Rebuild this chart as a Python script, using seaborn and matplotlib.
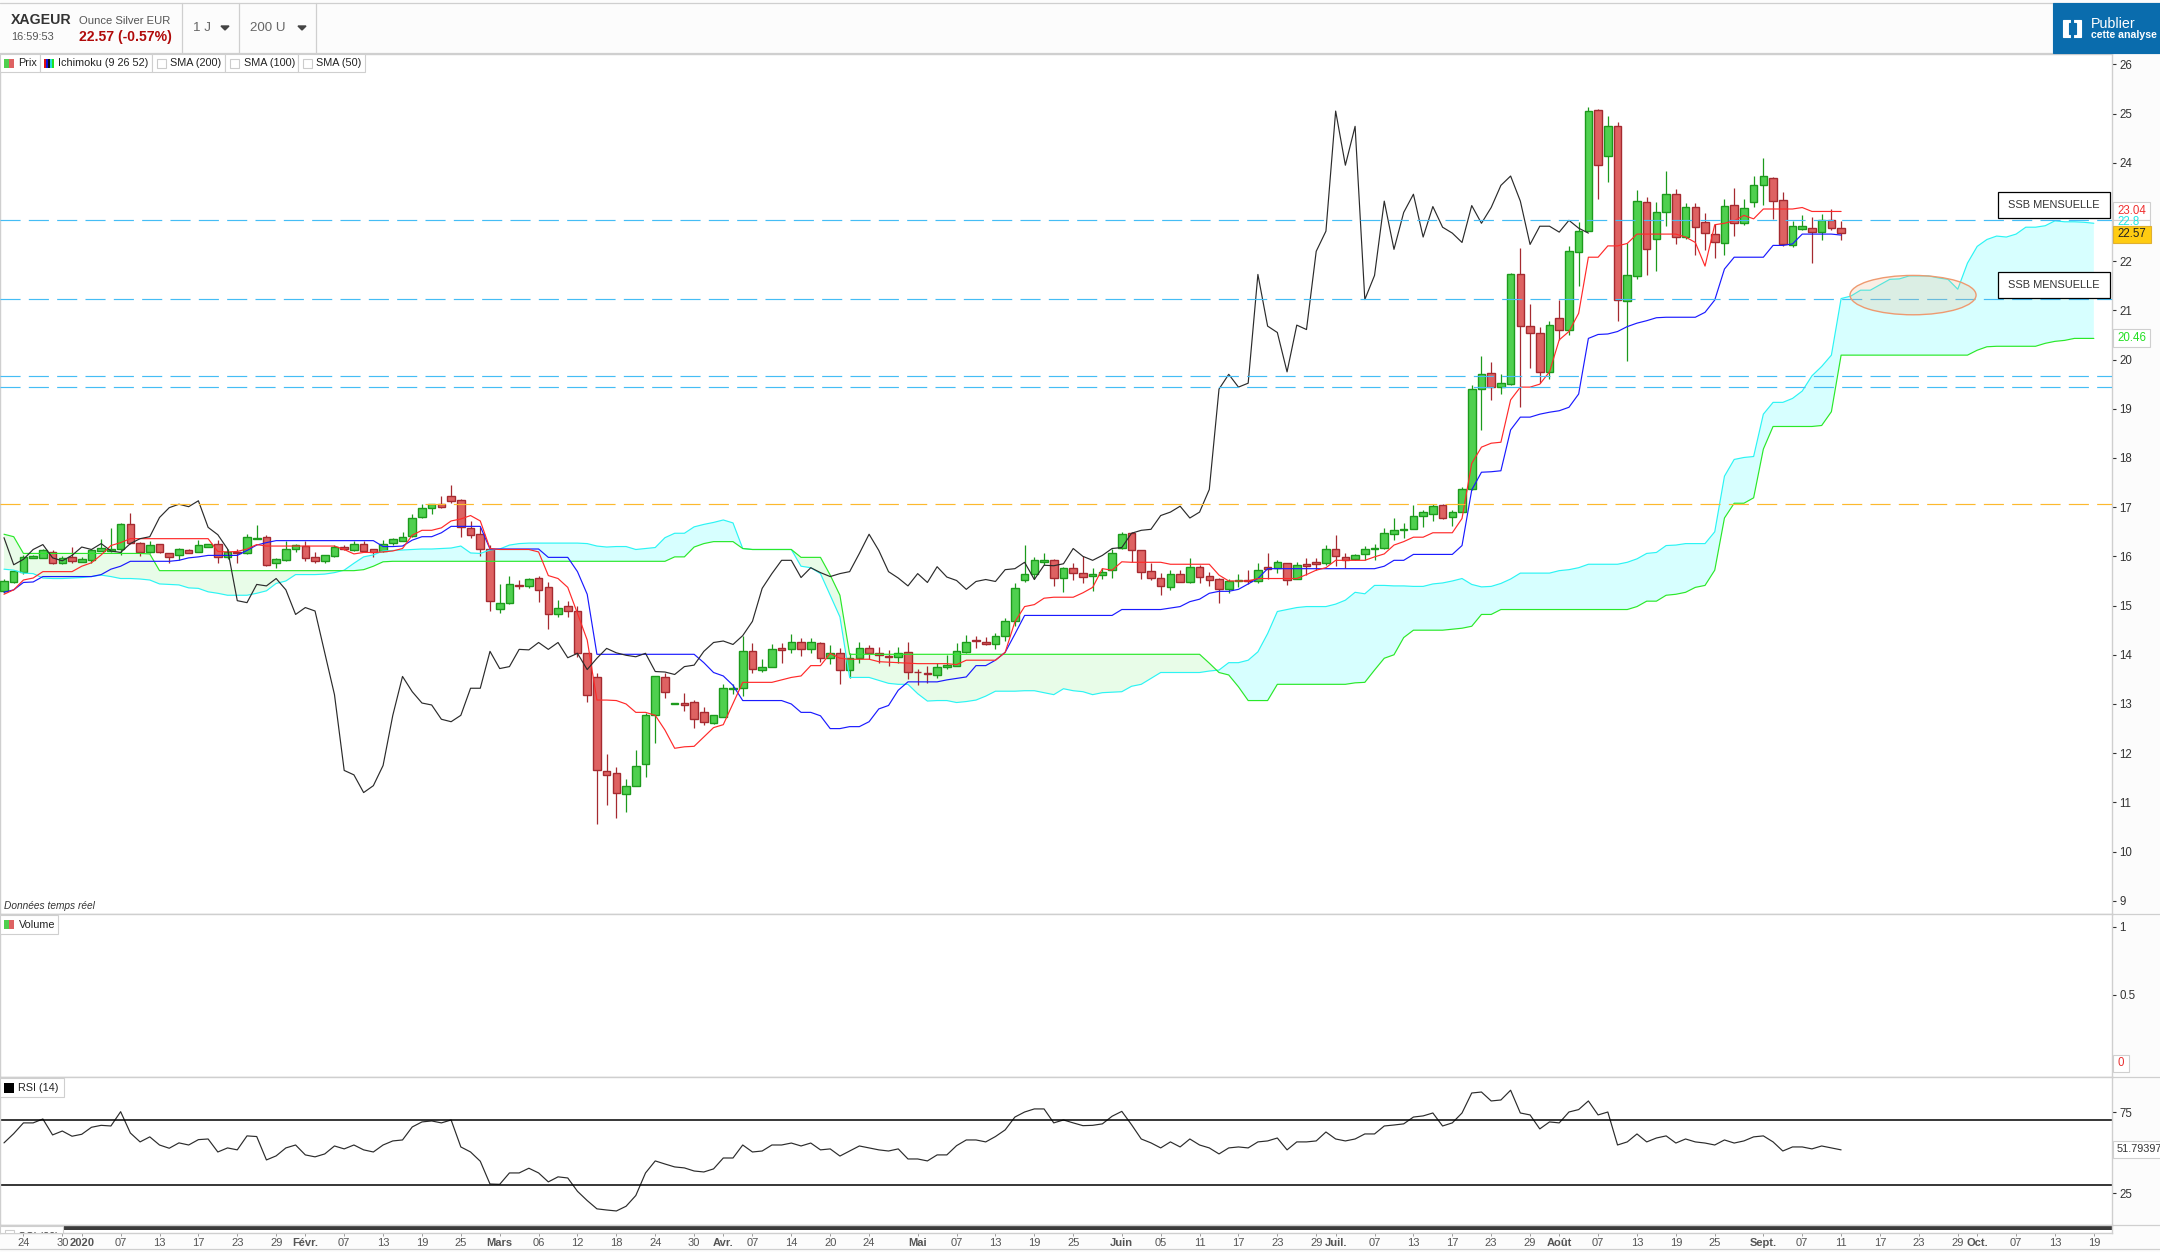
import numpy as np
import seaborn as sns
import matplotlib
matplotlib.use("Agg")
import matplotlib.pyplot as plt
from matplotlib.patches import Rectangle, Ellipse, Polygon

opens = [15.30,15.47,15.69,15.97,15.97,16.09,15.86,15.98,15.89,15.93,
16.11,16.11,16.15,16.65,16.28,16.09,16.26,16.06,16.02,16.12,
16.09,16.20,16.26,15.99,16.09,16.06,16.36,16.40,15.86,15.92,
16.15,16.22,15.98,15.91,16.00,16.20,16.13,16.26,16.14,16.11,
16.28,16.32,16.42,16.80,16.99,17.06,17.22,17.14,16.57,16.45,
16.15,14.93,15.06,15.41,15.40,15.57,15.37,14.83,14.99,14.90,
14.03,13.54,11.63,11.59,11.17,11.34,11.78,12.78,13.54,13.00,
13.03,13.05,12.83,12.62,12.74,13.31,13.32,14.07,13.69,13.76,
14.13,14.11,14.25,14.11,14.23,13.93,14.03,13.70,13.93,14.13,
14.03,13.97,13.96,14.05,13.66,13.64,13.58,13.76,13.78,14.05,
14.30,14.27,14.22,14.39,14.68,15.53,15.65,15.89,15.92,15.57,
15.77,15.67,15.61,15.63,15.73,16.17,16.47,16.12,15.71,15.57,
15.37,15.65,15.47,15.79,15.61,15.55,15.33,15.49,15.53,15.49,
15.79,15.77,15.86,15.55,15.84,15.88,15.86,16.16,15.98,15.95,
16.05,16.15,16.18,16.46,16.54,16.56,16.83,16.87,17.04,16.80,
16.91,17.36,19.40,19.72,19.45,19.51,21.73,20.68,20.53,19.75,
20.84,20.60,22.18,22.62,25.07,24.13,24.74,21.20,21.69,23.20,
22.46,22.99,23.36,22.49,23.11,22.79,22.55,22.36,23.15,22.77,
23.21,23.54,23.70,23.24,22.32,22.65,22.68,22.59,22.83,22.67]

highs = [15.55,15.73,16.03,16.02,16.16,16.13,16.01,16.19,15.99,16.14,
16.36,16.57,16.67,16.89,16.30,16.31,16.26,16.07,16.17,16.16,
16.34,16.26,16.34,16.14,16.14,16.45,16.64,16.43,15.96,16.31,
16.26,16.31,16.08,16.02,16.24,16.24,16.32,16.31,16.15,16.34,
16.38,16.49,16.87,17.06,17.06,17.22,17.45,17.16,16.72,16.60,
16.24,15.44,15.60,15.52,15.57,15.60,15.47,15.12,15.09,14.99,
14.04,13.62,11.98,11.72,11.47,12.06,12.81,13.56,13.62,13.02,
13.23,13.08,12.93,12.77,13.40,13.40,14.38,14.23,13.91,14.22,
14.23,14.43,14.35,14.35,14.25,14.20,14.13,14.03,14.26,14.20,
14.15,14.09,14.15,14.25,13.72,13.77,13.84,13.99,14.23,14.40,
14.38,14.37,14.45,14.74,15.46,16.23,15.99,16.06,15.94,15.79,
15.86,16.00,15.77,15.77,16.16,16.49,16.49,16.12,15.86,15.67,
15.73,15.72,15.96,15.82,15.69,15.57,15.55,15.65,15.72,15.87,
16.06,15.92,15.87,15.89,15.96,15.96,16.23,16.43,16.06,16.05,
16.22,16.26,16.57,16.78,16.67,17.04,16.95,17.06,17.06,16.94,
17.40,19.48,20.07,19.95,19.71,21.75,22.27,21.13,20.67,20.79,
21.21,22.31,22.80,25.13,25.09,24.95,24.82,22.36,23.45,23.30,
23.20,23.83,23.47,23.18,23.18,22.97,22.75,23.26,23.48,23.27,
23.73,24.09,23.72,23.40,22.82,22.94,22.89,22.95,23.07,22.82]

lows = [15.25,15.46,15.65,15.96,15.96,15.85,15.84,15.86,15.88,15.87,
16.10,16.09,16.03,16.26,16.00,16.06,16.07,15.87,15.92,16.07,
16.08,16.19,15.87,15.95,15.87,16.05,16.35,15.81,15.77,15.91,
16.09,15.91,15.87,15.86,15.99,16.13,16.11,16.09,15.99,16.08,
16.23,16.31,16.40,16.79,16.87,16.99,17.09,16.40,16.38,16.00,
14.89,14.85,15.03,15.33,15.36,15.08,14.52,14.77,14.77,13.96,
13.04,10.57,10.94,10.69,10.81,11.33,11.52,12.21,13.13,13.00,
12.86,12.52,12.57,12.60,12.73,13.21,13.16,13.64,13.65,13.75,
13.84,14.03,13.98,14.04,13.86,13.81,13.40,13.52,13.84,13.91,
13.84,13.77,13.84,13.50,13.39,13.43,13.52,13.71,13.77,14.03,
14.13,14.20,14.11,14.28,14.59,15.48,15.55,15.82,15.40,15.28,
15.53,15.45,15.30,15.55,15.57,16.16,15.89,15.54,15.53,15.21,
15.31,15.47,15.45,15.45,15.39,15.06,15.25,15.38,15.44,15.45,
15.55,15.67,15.42,15.54,15.63,15.73,15.82,15.80,15.76,15.92,
15.92,15.92,16.16,16.33,16.38,16.55,16.60,16.72,16.76,16.62,
16.91,17.35,18.56,19.17,19.30,19.48,19.04,19.82,19.52,19.60,
20.40,20.50,21.50,22.62,23.26,23.60,20.79,19.98,21.64,21.72,
21.80,22.72,22.35,22.45,22.13,22.23,22.06,22.13,22.51,22.73,
23.11,23.14,22.86,22.31,22.29,22.63,21.97,22.44,22.63,22.43]

closes = [15.49,15.70,15.99,16.00,16.12,15.87,15.97,15.91,15.94,16.12,
16.18,16.16,16.65,16.28,16.09,16.24,16.08,15.99,16.14,16.07,
16.24,16.26,15.99,16.08,16.06,16.40,16.38,15.83,15.94,16.14,
16.24,15.97,15.91,16.02,16.19,16.14,16.26,16.11,16.08,16.26,
16.36,16.40,16.79,16.99,17.06,17.01,17.13,16.59,16.44,16.15,
15.10,15.06,15.43,15.40,15.55,15.32,14.82,14.96,14.89,14.04,
13.19,11.65,11.56,11.20,11.34,11.75,12.77,13.56,13.25,13.02,
12.98,12.69,12.64,12.77,13.32,13.32,14.07,13.72,13.76,14.11,
14.10,14.25,14.11,14.25,13.94,14.03,13.70,13.93,14.13,14.04,
13.99,13.96,14.03,13.66,13.65,13.60,13.76,13.79,14.07,14.25,
14.28,14.21,14.39,14.68,15.35,15.65,15.92,15.92,15.57,15.77,
15.67,15.59,15.65,15.69,16.06,16.45,16.12,15.69,15.56,15.40,
15.65,15.47,15.79,15.58,15.51,15.33,15.49,15.53,15.49,15.73,
15.75,15.88,15.53,15.82,15.81,15.85,16.16,16.00,15.92,16.02,
16.16,16.18,16.47,16.53,16.55,16.83,16.90,17.02,16.78,16.90,
17.36,19.40,19.70,19.44,19.52,21.73,20.68,20.55,19.75,20.70,
20.61,22.20,22.61,25.05,23.95,24.74,21.22,21.71,23.22,22.24,
22.99,23.36,22.49,23.11,22.69,22.57,22.38,23.13,22.77,23.09,
23.54,23.73,23.22,22.34,22.71,22.71,22.59,22.83,22.67,22.57]

tenkan = [15.23,15.32,15.52,15.56,15.69,15.69,15.69,15.69,15.80,15.87,
16.03,16.22,16.28,16.36,16.36,16.36,16.36,16.36,16.36,16.36,
16.36,16.36,16.10,16.09,16.10,16.15,16.24,16.21,16.21,16.21,
16.21,16.21,16.21,16.21,16.21,16.14,16.05,16.08,16.08,16.09,
16.11,16.16,16.43,16.53,16.53,16.58,16.72,16.76,16.83,16.72,
16.16,16.14,16.14,16.14,16.14,16.09,15.61,15.55,15.37,14.84,
14.30,13.08,13.08,13.07,13.00,12.83,12.83,12.77,12.47,12.10,
12.13,12.14,12.33,12.52,12.58,13.01,13.44,13.44,13.44,13.44,
13.49,13.54,13.57,13.78,13.78,14.03,13.93,13.91,13.91,13.91,
13.86,13.85,13.84,13.83,13.82,13.82,13.82,13.82,13.80,13.89,
13.89,13.89,13.89,14.05,14.67,14.98,15.02,15.15,15.17,15.17,
15.17,15.26,15.37,15.75,15.72,15.89,15.88,15.88,15.88,15.88,
15.84,15.84,15.84,15.84,15.84,15.62,15.50,15.50,15.50,15.55,
15.55,15.55,15.55,15.55,15.63,15.72,15.77,15.92,15.92,15.92,
15.92,15.99,16.05,16.23,16.30,16.39,16.39,16.48,16.48,16.48,
16.77,17.89,18.22,18.30,18.32,19.18,19.44,19.44,19.50,19.75,
20.40,20.57,20.94,22.08,22.08,22.31,22.31,22.36,22.55,22.55,
22.55,22.55,22.55,22.49,22.38,21.90,22.74,22.77,22.82,22.93,
22.86,23.06,23.06,23.06,23.06,23.09,23.01,23.01,23.01,23.01]

kijun = [15.27,15.32,15.47,15.48,15.59,15.59,15.59,15.59,15.59,15.59,
15.63,15.74,15.80,15.90,15.90,15.90,15.90,15.90,15.92,15.97,
15.99,16.02,16.02,16.02,16.02,16.12,16.23,16.28,16.32,16.32,
16.32,16.32,16.32,16.32,16.32,16.32,16.32,16.32,16.32,16.20,
16.20,16.21,16.33,16.40,16.40,16.48,16.61,16.61,16.61,16.61,
16.15,16.15,16.15,16.15,16.15,16.15,15.98,15.98,15.98,15.69,
15.23,14.01,14.01,14.01,14.01,14.01,14.01,14.01,14.01,14.01,
14.01,14.01,13.84,13.64,13.57,13.38,13.07,13.07,13.07,13.07,
13.07,13.00,12.83,12.83,12.76,12.50,12.50,12.54,12.54,12.64,
12.90,12.97,13.28,13.45,13.45,13.45,13.45,13.49,13.52,13.55,
13.78,13.78,13.89,14.05,14.42,14.80,14.80,14.80,14.80,14.80,
14.80,14.80,14.80,14.80,14.80,14.92,14.92,14.92,14.92,14.92,
14.95,14.98,15.08,15.13,15.25,15.29,15.29,15.33,15.44,15.55,
15.75,15.75,15.75,15.75,15.75,15.75,15.75,15.75,15.75,15.75,
15.75,15.75,15.80,15.92,15.92,16.04,16.04,16.04,16.04,16.04,
16.22,17.35,17.71,17.72,17.74,18.57,18.83,18.83,18.89,18.93,
18.96,19.03,19.30,20.43,20.51,20.52,20.57,20.67,20.74,20.79,
20.85,20.86,20.86,20.86,20.86,20.96,21.21,21.84,22.08,22.08,
22.08,22.08,22.32,22.32,22.35,22.55,22.55,22.55,22.55,22.53]

chikou = [16.38,15.83,15.94,16.14,
16.24,15.97,15.91,16.02,16.19,16.14,16.26,16.11,16.08,16.26,
16.36,16.40,16.79,16.99,17.06,17.01,17.13,16.59,16.44,16.15,
15.10,15.06,15.43,15.40,15.55,15.32,14.82,14.96,14.89,14.04,
13.19,11.65,11.56,11.20,11.34,11.75,12.77,13.56,13.25,13.02,
12.98,12.69,12.64,12.77,13.32,13.32,14.07,13.72,13.76,14.11,
14.10,14.25,14.11,14.25,13.94,14.03,13.70,13.93,14.13,14.04,
13.99,13.96,14.03,13.66,13.65,13.60,13.76,13.79,14.07,14.25,
14.28,14.21,14.39,14.68,15.35,15.65,15.92,15.92,15.57,15.77,
15.67,15.59,15.65,15.69,16.06,16.45,16.12,15.69,15.56,15.40,
15.65,15.47,15.79,15.58,15.51,15.33,15.49,15.53,15.49,15.73,
15.75,15.88,15.53,15.82,15.81,15.85,16.16,16.00,15.92,16.02,
16.16,16.18,16.47,16.53,16.55,16.83,16.90,17.02,16.78,16.90,
17.36,19.40,19.70,19.44,19.52,21.73,20.68,20.55,19.75,20.70,
20.61,22.20,22.61,25.05,23.95,24.74,21.22,21.71,23.22,22.24,
22.99,23.36,22.49,23.11,22.69,22.57,22.38,23.13,22.77,23.09,
23.54,23.73,23.22,22.34,22.71,22.71,22.59,22.83,22.67,22.57]

senkou_a = [15.74,15.72,15.66,15.65,15.56,15.55,15.55,15.56,15.57,15.59,
15.62,15.59,15.55,15.55,15.54,15.52,15.44,15.43,15.42,15.36,
15.35,15.28,15.25,15.21,15.21,15.21,15.25,15.30,15.45,15.50,
15.63,15.63,15.63,15.64,15.67,15.72,15.86,15.99,16.03,16.11,
16.12,16.13,16.14,16.15,16.15,16.16,16.17,16.21,16.07,16.06,
16.13,16.15,16.23,16.26,16.27,16.27,16.27,16.27,16.27,16.27,
16.26,16.21,16.19,16.20,16.20,16.14,16.16,16.18,16.38,16.47,
16.47,16.60,16.65,16.69,16.74,16.68,16.16,16.14,16.14,16.14,
16.14,16.14,15.80,15.77,15.65,15.21,14.77,13.54,13.54,13.54,
13.48,13.42,13.40,13.40,13.21,13.06,13.07,13.07,13.03,13.05,
13.08,13.16,13.26,13.26,13.26,13.27,13.27,13.23,13.19,13.31,
13.27,13.25,13.19,13.23,13.24,13.25,13.36,13.40,13.52,13.64,
13.64,13.64,13.64,13.64,13.67,13.69,13.84,13.84,13.89,14.06,
14.43,14.88,14.92,14.96,14.98,14.98,14.98,15.03,15.11,15.27,
15.24,15.41,15.41,15.40,15.40,15.39,15.39,15.44,15.46,15.50,
15.55,15.43,15.38,15.39,15.45,15.54,15.66,15.66,15.66,15.66,
15.71,15.73,15.77,15.84,15.84,15.84,15.84,15.88,15.95,16.06,
16.08,16.22,16.23,16.26,16.26,16.26,16.50,17.63,17.97,18.01,
18.03,18.89,19.13,19.13,19.21,19.36,19.67,19.86,20.09,21.24,
21.29,21.41,21.41,21.52,21.63,21.64,21.70,21.70,21.70,21.66,
21.63,21.43,21.96,22.30,22.44,22.51,22.49,22.55,22.69,22.69,
22.72,22.82,22.80,22.80,22.79,22.77]

senkou_b = [16.45,16.40,16.06,16.06,16.06,16.06,16.06,16.06,16.06,16.06,
16.06,16.06,16.06,16.06,16.06,16.05,15.71,15.71,15.71,15.71,
15.71,15.71,15.71,15.71,15.71,15.71,15.71,15.71,15.71,15.71,
15.71,15.71,15.71,15.71,15.71,15.71,15.71,15.73,15.80,15.89,
15.90,15.90,15.90,15.90,15.90,15.90,15.90,15.90,15.90,15.90,
15.90,15.90,15.90,15.90,15.90,15.90,15.90,15.90,15.90,15.90,
15.90,15.90,15.90,15.90,15.90,15.90,15.90,15.90,15.90,15.99,
15.99,16.19,16.26,16.30,16.30,16.30,16.16,16.14,16.14,16.14,
16.14,16.14,15.98,15.98,15.98,15.62,15.21,14.01,14.01,14.01,
14.01,14.01,14.01,14.01,14.01,14.01,14.01,14.01,14.01,14.01,
14.01,14.01,14.01,14.01,14.01,14.01,14.01,14.01,14.01,14.01,
14.01,14.01,14.01,14.01,14.01,14.01,14.01,14.01,14.01,14.01,
14.01,14.01,14.01,14.01,13.83,13.64,13.59,13.35,13.07,13.07,
13.07,13.40,13.40,13.40,13.40,13.40,13.40,13.40,13.40,13.43,
13.44,13.69,13.93,14.00,14.35,14.50,14.50,14.50,14.50,14.52,
14.54,14.58,14.82,14.82,14.92,14.92,14.92,14.92,14.92,14.92,
14.92,14.92,14.92,14.92,14.92,14.92,14.92,14.92,14.98,15.09,
15.09,15.21,15.23,15.27,15.37,15.41,15.72,16.78,17.08,17.08,
17.19,18.18,18.64,18.64,18.64,18.64,18.64,18.66,18.94,20.09,
20.09,20.09,20.09,20.09,20.09,20.09,20.09,20.09,20.09,20.09,
20.09,20.09,20.09,20.19,20.26,20.27,20.27,20.27,20.27,20.27,
20.33,20.37,20.39,20.43,20.43,20.43]

rsi = [56.1,61.8,68.4,68.4,70.8,61.0,63.4,60.2,61.4,65.7,
66.9,66.5,75.3,62.2,56.7,59.8,54.8,52.8,56.1,54.8,
58.1,58.5,50.5,53.0,51.8,60.4,60.0,45.6,48.1,53.0,
54.8,48.7,47.5,49.3,54.2,52.4,54.8,51.8,50.5,54.8,
57.3,57.9,65.9,69.0,69.6,68.4,70.2,53.6,50.5,44.8,
30.8,30.6,37.6,37.6,40.5,37.6,32.1,35.2,34.5,26.3,
20.6,15.5,14.8,14.2,17.1,23.7,37.6,45.0,43.1,41.3,
40.7,38.8,38.2,40.1,46.8,46.8,54.8,50.5,51.1,54.8,
54.8,56.0,54.2,56.0,51.8,52.4,48.0,51.1,54.2,53.0,
51.8,51.1,52.4,46.2,46.2,45.0,48.7,48.7,54.4,57.9,
57.9,56.7,60.0,64.1,72.0,75.1,77.0,77.0,68.4,70.2,
68.4,66.7,66.9,67.8,72.5,75.5,67.3,58.5,56.1,53.0,
56.7,53.6,58.5,54.8,53.0,49.3,53.0,53.6,53.0,56.7,
57.3,59.1,51.8,56.7,56.7,57.3,62.8,58.5,57.3,58.5,
61.6,61.6,66.5,67.1,67.8,72.0,72.7,74.5,66.5,68.4,
74.5,86.8,87.4,81.9,82.5,88.5,74.5,73.3,64.7,69.0,
68.4,75.1,76.6,81.9,73.3,75.1,54.8,56.7,61.6,56.7,
59.1,60.4,56.0,58.5,56.7,56.0,54.8,57.9,56.0,57.3,
59.8,60.4,56.7,51.1,53.6,53.6,52.4,54.2,53.0,51.8]

blue_levels = [22.83, 21.24, 19.66, 19.44]
orange_level = 17.06
rsi_levels = [70, 30]

date_ticks = [2,6,8,12,16,20,24,28,31,35,39,43,47,51,55,59,63,67,71,74,77,81,85,89,94,98,102,106,110,
              115,119,123,127,131,135,137,141,145,149,153,157,160,164,168,172,176,181,185,189,193,197,201,203,207,211,215]
date_labels = ["24","30","2020","07","13","17","23","29","Févr.","07","13","19","25","Mars","06","12","18","24","30","Avr.",
               "07","14","20","24","Mai","07","13","19","25","Juin","05","11","17","23","29","Juil.","07","13","17","23","29",
               "Août","07","13","19","25","Sept.","07","11","17","23","29","Oct.","07","13","19"]
bold_labels = ["2020","Févr.","Mars","Avr.","Mai","Juin","Juil.","Août","Sept.","Oct."]

W, H = 2160, 1252
RIGHT = 2112.3
GRID = "#cfcfcf"
TXT = "#333333"

sns.set_style("white")
plt.rcParams["font.family"] = ["Liberation Sans", "DejaVu Sans"]

fig = plt.figure(figsize=(W / 100, H / 100), dpi=100, facecolor="#fcfcfc")


def panel(y0, y1):
    a = fig.add_axes([0, 1 - y1 / H, RIGHT / W, (y1 - y0) / H], facecolor="white")
    a.set_xlim(-0.41, 216.9)
    for s in a.spines.values():
        s.set_color(GRID)
        s.set_linewidth(1.0)
    a.set_xticks([])
    a.yaxis.tick_right()
    a.tick_params(axis="y", length=3, width=0.8, color=TXT, labelcolor=TXT, labelsize=8.3, pad=2, left=False, right=True)
    return a


ax = panel(54, 914.3)
ax_vol = panel(914.3, 1077.3)
ax_rsi = panel(1077.3, 1225.3)
ax_x = panel(1225.3, 1232.5)

# prices
ax.set_ylim(8.726, 26.21)
ax.set_yticks(range(9, 27))

idx = np.arange(len(closes))
o, h, l, c = map(np.array, (opens, highs, lows, closes))
up = c >= o
ax.vlines(idx[up], l[up], h[up], color="#1c9a1c", lw=0.9, zorder=3)
ax.vlines(idx[~up], l[~up], h[~up], color="#a52a30", lw=0.9, zorder=3)
ax.bar(idx[up], (c - o)[up], bottom=o[up], width=0.78, color="#4fd04f", edgecolor="#1c9a1c", linewidth=1.0, zorder=4)
ax.bar(idx[~up], (o - c)[~up], bottom=c[~up], width=0.78, color="#de6262", edgecolor="#a52a30", linewidth=1.0, zorder=4)

# ichimoku cloud
cloud_x = np.arange(len(senkou_a))
ssa, ssb = np.array(senkou_a), np.array(senkou_b)
ax.fill_between(cloud_x, ssa, ssb, where=ssa >= ssb, interpolate=True, color="#d7ffff", lw=0, zorder=1)
ax.fill_between(cloud_x, ssa, ssb, where=ssa <= ssb, interpolate=True, color="#e8fce8", lw=0, zorder=1)

lines = [(senkou_a, "#2cf4f4"), (senkou_b, "#2ae82a"), (kijun, "#1a1aff"), (tenkan, "#ff2a2a"), (chikou, "#2b2b2b")]
for vals, col in lines:
    sns.lineplot(x=np.arange(len(vals)), y=vals, ax=ax, color=col, lw=0.85, errorbar=None, estimator=None, zorder=5)

for lev in blue_levels:
    ax.axhline(lev, color="#45bdf5", lw=0.85, ls=(0, (17, 7)), zorder=6)
ax.axhline(orange_level, color="#fdb92e", lw=0.85, ls=(0, (17, 7)), zorder=6)

ax.add_patch(Ellipse((196.4, 21.31), 12.97, 0.80, facecolor=(0.93, 0.70, 0.52, 0.22),
                     edgecolor="#ee9a70", lw=1.0, zorder=7))

# volume (empty)
ax_vol.set_ylim(-0.105, 1.093)
ax_vol.set_yticks([0.5, 1])
ax_vol.set_yticklabels(["0.5", "1"])

# rsi
ax_rsi.set_ylim(5.38, 96.46)
ax_rsi.set_yticks([25, 75])
sns.lineplot(x=np.arange(len(rsi)), y=rsi, ax=ax_rsi, color="#2b2b2b", lw=0.85, errorbar=None, estimator=None)
for lev in rsi_levels:
    ax_rsi.axhline(lev, color="black", lw=1.1)

# date axis strip, the squeezed panel under the rsi
ax_x.set_ylim(0, 1)
ax_x.set_yticks([])
ax_x.axhline(0.42, xmin=63 / RIGHT, color="black", lw=1.1)
ax_x.axhline(0.82, xmin=63 / RIGHT, color="black", lw=1.1)
ax_x.set_xticks(date_ticks)
ax_x.set_xticklabels(date_labels)
ax_x.tick_params(axis="x", length=2.5, width=0.7, color="#999999", labelsize=8, labelcolor="#555555", pad=1.5, bottom=True)
for t in ax_x.get_xticklabels():
    if t.get_text() in bold_labels:
        t.set_fontweight("bold")

# page chrome, in pixels
ov = fig.add_axes([0, 0, 1, 1], zorder=10)
ov.set_xlim(0, W)
ov.set_ylim(H, 0)
ov.axis("off")


def box(x0, y0, x1, y1, fc="white", ec=GRID, lw=0.8, z=2):
    ov.add_patch(Rectangle((x0, y0), x1 - x0, y1 - y0, facecolor=fc, edgecolor=ec, lw=lw, zorder=z))


def label(x, y, s, size=8, color=TXT, ha="left", z=5, **kw):
    return ov.text(x, y, s, fontsize=size, color=color, ha=ha, va="center", zorder=z, **kw)


ov.plot([0, W], [2.5, 2.5], color=GRID, lw=0.9)
ov.plot([0, W], [53, 53], color=GRID, lw=0.9)
ov.plot([0, W], [1249.3, 1249.3], color=GRID, lw=0.9)
for xs in [182, 239, 316]:
    ov.plot([xs, xs], [3, 53], color=GRID, lw=0.9)
for yp in [914.3, 1077.3, 1225.3]:
    ov.plot([RIGHT, W], [yp, yp], color=GRID, lw=0.9)

label(11, 20, "XAGEUR", 10.2, "#333333", fontweight="bold")
label(79, 20.5, "Ounce Silver EUR", 8.1, "#555555")
label(11, 36.5, "16:59:53", 7.9, "#555555")
label(79, 36.5, "22.57 (-0.57%)", 10.1, "#b00a0a", fontweight="bold")
label(193, 28, "1 J", 9.6, "#666666")
label(250, 28, "200 U", 9.6, "#666666")
ov.add_patch(Polygon([[221, 26], [229, 26], [225, 30]], color="#444444", zorder=5))
ov.add_patch(Polygon([[298, 26], [306, 26], [302, 30]], color="#444444", zorder=5))

box(2053, 3, 2160, 53, fc="#0a6cad", ec="#0a6cad")
box(2063, 20, 2081, 37, fc="white", ec="white", z=3)
box(2068.5, 23, 2075.5, 34, fc="#0a6cad", ec="#0a6cad", z=4)
box(2071, 19, 2073, 38, fc="#0a6cad", ec="#0a6cad", z=4)
label(2091, 23.5, "Publier", 10.3, "white")
label(2091, 35.5, "cette analyse", 7.6, "white", fontweight="bold")

# indicator legend
box(0, 54, 40, 71.5)
box(40, 54, 152, 71.5)
box(152, 54, 225, 71.5)
box(225, 54, 298, 71.5)
box(298, 54, 365, 71.5)
box(4, 58.5, 9, 68, fc="#4fd04f", ec="#4fd04f", lw=0, z=3)
box(9, 58.5, 14, 68, fc="#de6262", ec="#de6262", lw=0, z=3)
label(18.5, 63, "Prix", 7.8, "#222222")
for k, col in enumerate(["#e01010", "#1010e0", "#111111", "#22e0e0", "#22e022"]):
    box(44 + 2 * k, 58.5, 46 + 2 * k, 68, fc=col, ec=col, lw=0, z=3)
label(58, 63, "Ichimoku (9 26 52)", 7.8, "#222222")
for xs, txt in [(157, "SMA (200)"), (230, "SMA (100)"), (303, "SMA (50)")]:
    box(xs, 58.5, xs + 9, 68, fc="white", ec="#cccccc")
    label(xs + 13.5, 63, txt, 7.8, "#222222")

label(4, 906, "Données temps réel", 7.3, "#333333", style="italic")

box(0, 915, 58, 933.5)
box(4, 919.5, 9, 929, fc="#4fd04f", ec="#4fd04f", lw=0, z=3)
box(9, 919.5, 14, 929, fc="#de6262", ec="#de6262", lw=0, z=3)
label(18.5, 924.5, "Volume", 7.8, "#222222")
box(0, 1078, 64, 1097)
box(4, 1082.5, 14, 1092.5, fc="black", ec="black", lw=0, z=3)
label(18.5, 1088, "RSI (14)", 7.8, "#222222")

# third indicator legend, cut off by the date axis
box(0, 1225.5, 63, 1232.5)
strip = Rectangle((0, 1225.5), 63, 7, transform=ov.transData)
hidden = label(18.5, 1237, "CCI (20)", 7.8, "#444444")
hidden.set_clip_on(True)
hidden.set_clip_path(strip)
tick_box = Rectangle((5, 1230), 9, 9, facecolor="white", edgecolor="#cccccc", lw=0.8, zorder=3)
ov.add_patch(tick_box)
tick_box.set_clip_path(strip)

# boxed annotations
for y0 in [191.7, 271.7]:
    box(1997.5, y0, 2110, y0 + 26.6, ec="black", lw=0.9)
    label(2053.7, y0 + 13, "SSB MENSUELLE", 7.9, "#333333", ha="center")

# last-value tags on the right axis
box(2113, 202, 2150, 220)
label(2117, 210.5, "23.04", 8.3, "#f03030")
box(2113, 220, 2150, 226)
label(2117, 222, "22.8", 8.3, "#22e6e6")
box(2112.5, 225.5, 2151, 243, fc="#ffcc11", ec="#e0b030", z=6)
label(2117, 234, "22.57", 8.3, "#222222", z=7)
box(2113, 329, 2150, 347)
label(2117, 338, "20.46", 8.3, "#22e022")
box(2113, 1055, 2129, 1072)
label(2117, 1063.5, "0", 8.3, "#e83030")
box(2113, 1141, 2162, 1158)
label(2117, 1149.5, "51.79397", 7.8, "#333333")

fig.savefig("out.png", dpi=100, facecolor=fig.get_facecolor())
